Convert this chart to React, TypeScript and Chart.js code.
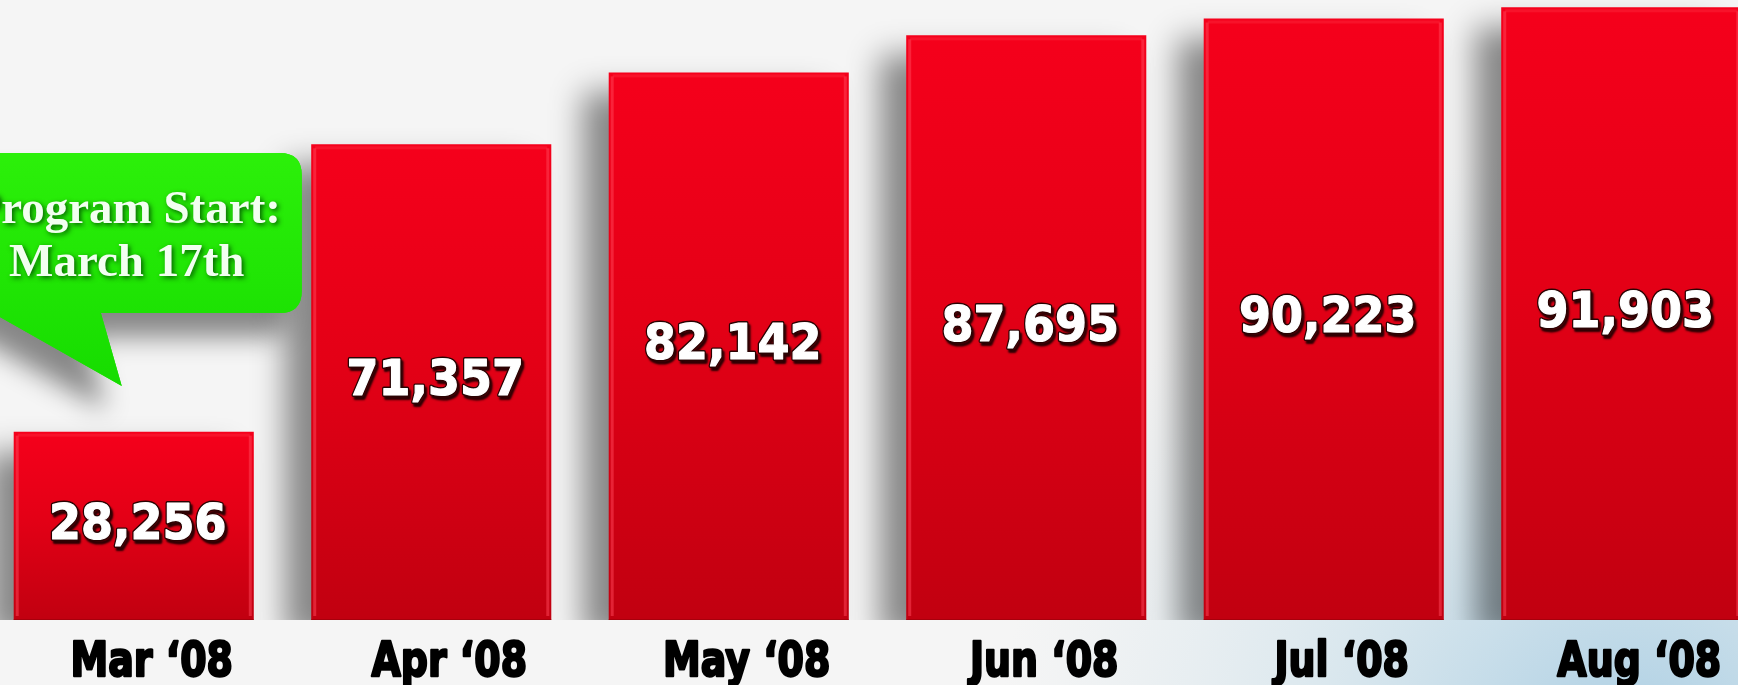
import React, { useEffect, useRef } from "react";
import { Chart, registerables } from "chart.js";

Chart.register(...registerables);

const months = ["Mar ‘08", "Apr ‘08", "May ‘08", "Jun ‘08", "Jul ‘08", "Aug ‘08"];
const members = [28256, 71357, 82142, 87695, 90223, 91903];
const calloutLines = ["Program Start:", "March 17th"];
const yMax = 93000;

const PAGE_W = 1738;
const PAGE_H = 685;
const SHIFT = 15;
const CANVAS_W = 1785;

const fmt = (v: number) => v.toLocaleString("en-US");

function roundRect(ctx: CanvasRenderingContext2D, x: number, y: number, w: number, h: number, r: number) {
  ctx.moveTo(x + r, y);
  ctx.lineTo(x + w - r, y);
  ctx.quadraticCurveTo(x + w, y, x + w, y + r);
  ctx.lineTo(x + w, y + h - r);
  ctx.quadraticCurveTo(x + w, y + h, x + w - r, y + h);
  ctx.lineTo(x + r, y + h);
  ctx.quadraticCurveTo(x, y + h, x, y + h - r);
  ctx.lineTo(x, y + r);
  ctx.quadraticCurveTo(x, y, x + r, y);
  ctx.closePath();
}

export default function App() {
  const ref = useRef<HTMLCanvasElement>(null);

  useEffect(() => {
    const canvas = ref.current;
    if (!canvas) return;

    const background = {
      id: "background",
      beforeDraw(chart: any) {
        const { ctx } = chart;
        ctx.save();
        ctx.fillStyle = "#f5f5f5";
        ctx.fillRect(0, 0, CANVAS_W, PAGE_H);
        const g = ctx.createRadialGradient(1650, 780, 20, 1650, 780, 640);
        g.addColorStop(0, "rgba(150,195,222,0.8)");
        g.addColorStop(0.5, "rgba(180,212,228,0.4)");
        g.addColorStop(1, "rgba(200,220,230,0)");
        ctx.fillStyle = g;
        ctx.fillRect(0, 0, CANVAS_W, PAGE_H);
        ctx.restore();
      },
    };

    const barShadow = {
      id: "barShadow",
      beforeDatasetsDraw(chart: any) {
        const { ctx } = chart;
        ctx.save();
        ctx.shadowColor = "rgba(0,0,0,0.45)";
        ctx.shadowBlur = 30;
        ctx.shadowOffsetX = -26;
        ctx.shadowOffsetY = 20;
      },
      afterDatasetsDraw(chart: any) {
        chart.ctx.restore();
      },
    };

    const decorations = {
      id: "decorations",
      afterDatasetsDraw(chart: any) {
        const { ctx } = chart;
        const meta = chart.getDatasetMeta(0);
        const bars = meta.data as any[];

        bars.forEach((bar) => {
          const left = bar.x - bar.width / 2;
          const right = bar.x + bar.width / 2;
          const top = bar.y;
          const bottom = bar.base;
          ctx.save();
          ctx.fillStyle = "rgba(255,70,90,0.5)";
          ctx.fillRect(left + 2, top + 4, 3, bottom - top - 8);
          ctx.fillRect(right - 5, top + 4, 3, bottom - top - 8);
          ctx.fillStyle = "rgba(255,60,80,0.3)";
          ctx.fillRect(left + 4, top + 2, bar.width - 8, 3);
          ctx.strokeStyle = "rgba(150,0,10,0.6)";
          ctx.lineWidth = 1;
          ctx.beginPath();
          ctx.moveTo(left, bottom - 0.5);
          ctx.lineTo(right, bottom - 0.5);
          ctx.stroke();
          ctx.restore();
        });

        // value labels, centred in each bar
        bars.forEach((bar, i) => {
          const txt = fmt(members[i]);
          const cx = bar.x + 4;
          const cy = (bar.y + bar.base) / 2;
          ctx.save();
          ctx.translate(cx, cy);
          ctx.scale(0.92, 1);
          ctx.font = "bold 50px 'DejaVu Sans', sans-serif";
          ctx.textAlign = "center";
          ctx.textBaseline = "middle";
          ctx.lineJoin = "round";
          ctx.shadowColor = "rgba(20,0,0,0.9)";
          ctx.shadowBlur = 2;
          ctx.shadowOffsetX = 2;
          ctx.shadowOffsetY = 3;
          ctx.strokeStyle = "#2a0303";
          ctx.lineWidth = 4;
          ctx.strokeText(txt, 0, 0);
          ctx.shadowColor = "transparent";
          ctx.fillStyle = "#ffffff";
          ctx.strokeStyle = "#ffffff";
          ctx.lineWidth = 1.2;
          ctx.fillText(txt, 0, 0);
          ctx.strokeText(txt, 0, 0);
          ctx.restore();
        });

        // category labels
        const xs = chart.scales.x;
        months.forEach((m, i) => {
          const x = xs.getPixelForTick(i) + 18;
          ctx.save();
          ctx.translate(x, 676);
          ctx.scale(0.79, 1);
          ctx.font = "bold 48px 'DejaVu Sans', sans-serif";
          ctx.textAlign = "center";
          ctx.textBaseline = "alphabetic";
          ctx.fillStyle = "#000000";
          ctx.strokeStyle = "#000000";
          ctx.lineWidth = 2.5;
          ctx.lineJoin = "round";
          ctx.fillText(m, 0, 0);
          ctx.strokeText(m, 0, 0);
          ctx.restore();
        });

        // callout anchored to the first bar
        const b0 = bars[0];
        const boxRight = b0.x + 168;
        const boxLeft = b0.x - 230;
        const boxTop = 153;
        const boxBottom = 313;
        const drawShape = () => {
          ctx.beginPath();
          roundRect(ctx, boxLeft, boxTop, boxRight - boxLeft, boxBottom - boxTop, 22);
          ctx.moveTo(b0.x - 148, boxBottom - 4);
          ctx.lineTo(b0.x - 34, boxBottom - 4);
          ctx.lineTo(b0.x - 12, 386);
          ctx.closePath();
        };
        ctx.save();
        ctx.shadowColor = "rgba(0,0,0,0.45)";
        ctx.shadowBlur = 26;
        ctx.shadowOffsetX = -16;
        ctx.shadowOffsetY = 24;
        ctx.fillStyle = "#1fe800";
        drawShape();
        ctx.fill("nonzero");
        ctx.restore();

        ctx.save();
        const gg = ctx.createLinearGradient(0, boxTop, 0, 386);
        gg.addColorStop(0, "#2cf00a");
        gg.addColorStop(1, "#16dc00");
        ctx.fillStyle = gg;
        drawShape();
        ctx.fill("nonzero");
        ctx.restore();

        ctx.save();
        ctx.font = "bold 47px 'Liberation Serif', 'Times New Roman', serif";
        ctx.textAlign = "center";
        ctx.textBaseline = "alphabetic";
        ctx.shadowColor = "rgba(0,70,0,0.85)";
        ctx.shadowBlur = 5;
        ctx.shadowOffsetX = 2;
        ctx.shadowOffsetY = 2;
        ctx.fillStyle = "#f2fff0";
        const tcx = b0.x - 7;
        ctx.fillText(calloutLines[0], tcx, 223);
        ctx.fillText(calloutLines[1], tcx, 276);
        ctx.restore();
      },
    };

    const chart = new Chart(canvas, {
      type: "bar",
      data: {
        labels: months,
        datasets: [
          {
            label: "Members",
            data: members,
            backgroundColor: (c: any) => {
              const ch = c.chart;
              const ys = ch.scales && ch.scales.y;
              if (!ys || c.raw == null) return "#e00015";
              const top = ys.getPixelForValue(c.raw);
              const bottom = ys.getPixelForValue(0);
              if (!Number.isFinite(top) || !Number.isFinite(bottom) || top === bottom) return "#e00015";
              const g = ch.ctx.createLinearGradient(0, top, 0, bottom);
              g.addColorStop(0, "#f5001b");
              g.addColorStop(0.45, "#e40016");
              g.addColorStop(1, "#c10010");
              return g;
            },
            borderWidth: 0,
            categoryPercentage: 1,
            barPercentage: 0.807,
          },
        ],
      },
      options: {
        animation: false,
        responsive: false,
        devicePixelRatio: 1,
        layout: { padding: { top: 0, bottom: PAGE_H - 620, left: 0, right: 0 } },
        plugins: {
          legend: { display: false },
          tooltip: { enabled: false },
          title: { display: false },
        },
        scales: {
          x: { display: false, offset: true },
          y: { display: false, min: 0, max: yMax },
        },
      },
      plugins: [background, barShadow, decorations],
    } as any);

    return () => chart.destroy();
  }, []);

  return (
    <div
      style={{
        position: "fixed",
        left: 0,
        top: 0,
        width: PAGE_W,
        height: PAGE_H,
        overflow: "hidden",
        background: "#f5f5f5",
      }}
    >
      <canvas
        ref={ref}
        width={CANVAS_W}
        height={PAGE_H}
        style={{ position: "absolute", left: -SHIFT, top: 0, width: CANVAS_W, height: PAGE_H }}
      />
    </div>
  );
}
